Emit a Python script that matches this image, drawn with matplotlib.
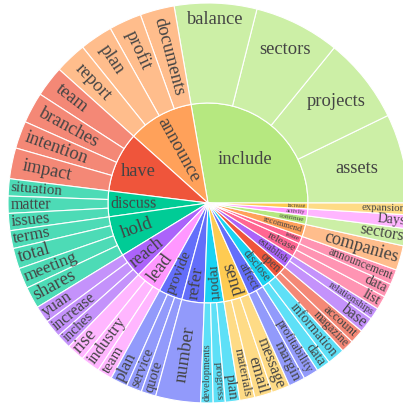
import numpy as np
import matplotlib
matplotlib.use("Agg")
import matplotlib.pyplot as plt
from matplotlib.textpath import TextPath
from matplotlib.font_manager import FontProperties

# inner ring (verbs), counterclockwise from 3 o'clock
verbs = ['include', 'announce', 'have', 'discuss', 'hold', 'reach', 'lead', 'provide',
         'refer', 'report', 'send', 'affect', 'disclose', 'open', 'establish', 'release',
         'issue', 'recommend', 'continue', 'activity', 'increase']
verb_colors = ['#B6E880', '#FFA15A', '#EF553B', '#00CC96', '#00CC96', '#AB63FA', '#FF97FF',
               '#636EFA', '#636EFA', '#19D3F3', '#FECB52', '#636EFA', '#19D3F3', '#EF553B',
               '#AB63FA', '#FF6692', '#FF6692', '#FFA15A', '#B6E880', '#FF97FF', '#FECB52']

# outer ring (objects) with their verb
objects = ['assets', 'projects', 'sectors', 'balance',
           'documents', 'profit', 'plan', 'report',
           'team', 'branches', 'intention', 'impact',
           'situation', 'matter', 'issues',
           'terms', 'total', 'meeting', 'shares',
           'yuan', 'increase', 'inches',
           'rise', 'industry', 'team',
           'plan', 'service', 'quote',
           'number',
           'developments', 'progress', 'plan',
           'materials', 'email', 'message',
           'margin', 'profitability',
           'data', 'information',
           'magazine', 'account',
           'base', 'relationships',
           'list', 'data',
           'announcement',
           'companies',
           'sectors',
           'Days',
           'expansion']
object_verb = ['include'] * 4 + ['announce'] * 4 + ['have'] * 4 + ['discuss'] * 3 + \
              ['hold'] * 4 + ['reach'] * 3 + ['lead'] * 3 + ['provide'] * 3 + ['refer'] + \
              ['report'] * 3 + ['send'] * 3 + ['affect'] * 2 + ['disclose'] * 2 + \
              ['open'] * 2 + ['establish'] * 2 + ['release'] * 2 + ['issue', 'recommend',
              'continue', 'activity', 'increase']
object_values = [26, 25, 25, 24,
                 10, 9.5, 9.6, 9.3,
                 9, 9, 8, 9,
                 5, 5, 5,
                 5.2, 6, 6, 6.3,
                 5, 5.2, 4.3,
                 5.2, 5.6, 4.4,
                 5, 4.5, 4.3,
                 13.1,
                 3.6, 3.5, 4.2,
                 4.4, 5.2, 5.3,
                 4.8, 4.4,
                 4.1, 5.1,
                 3.7, 4.1,
                 4.5, 3.4,
                 4, 4,
                 4.4,
                 7.2,
                 5.0,
                 4.0,
                 3.4]

verb_values = [sum(v for v, p in zip(object_values, object_verb) if p == name) for name in verbs]


def lighten(c, a=0.7):
    rgb = np.array(matplotlib.colors.to_rgb(c))
    return tuple(a * rgb + (1 - a))


object_colors = [lighten(verb_colors[verbs.index(p)]) for p in object_verb]

CX, CY = 208, 202
R_IN, R_OUT = 100, 200
PAD = 2
HF = 0.85
MAX_PX = 18.5
FP = FontProperties(family='Liberation Serif')

fig = plt.figure(figsize=(4.03, 4.05), dpi=100)
ax = fig.add_axes([0, 0, 1, 1])
wp = dict(edgecolor='white', linewidth=0.8)
ax.pie(verb_values, radius=R_IN, center=(CX, CY), startangle=0, counterclock=True,
       colors=verb_colors, wedgeprops=wp)
ax.pie(object_values, radius=R_OUT, center=(CX, CY), startangle=0, counterclock=True,
       colors=object_colors, wedgeprops=dict(width=R_OUT - R_IN, **wp))
ax.set_xlim(0, 403)
ax.set_ylim(0, 405)
ax.set_aspect('equal')
ax.axis('off')


def text_w(s):
    return TextPath((0, 0), s, size=1, prop=FP).get_extents().width * 1.02


def radial_fit(w, r0, r1, half):
    lo, hi = 0.0, 200.0
    for _ in range(40):
        fs = (lo + hi) / 2
        rin = r1 - PAD - w * fs
        ok = rin >= r0 + PAD and (half >= np.pi / 2 or HF / 2 * fs <= rin * np.tan(half))
        if ok:
            lo = fs
        else:
            hi = fs
    return lo, r1 - PAD - w * lo / 2


def box_ok(cxr, cyr, W, H, r0, r1, a0, span):
    xs = np.concatenate([np.linspace(-W / 2, W / 2, 7), np.full(5, W / 2),
                         np.linspace(-W / 2, W / 2, 7), np.full(5, -W / 2)])
    ys = np.concatenate([np.full(7, H / 2), np.linspace(-H / 2, H / 2, 5),
                         np.full(7, -H / 2), np.linspace(-H / 2, H / 2, 5)])
    x = cxr + xs
    y = cyr + ys
    r = np.hypot(x, y)
    if np.any(r > r1 - PAD) or np.any(r < r0 + PAD):
        return False
    t = (np.arctan2(y, x) - a0) % (2 * np.pi)
    if np.any(t > span):
        return False
    d0 = np.where(t < np.pi / 2, r * np.sin(t), 1e9)
    d1 = np.where(span - t < np.pi / 2, r * np.sin(span - t), 1e9)
    return bool(np.all(d0 >= PAD) and np.all(d1 >= PAD))


def horiz_fit(w, r0, r1, a0, a1):
    mid = (a0 + a1) / 2
    span = a1 - a0
    if r0 == 0:
        h = min(span / 2, np.pi / 2)
        rin = np.sin(h) / (1 + np.sin(h))
        return 2 * (r1 - PAD) * rin / np.hypot(w, HF), r1 * (1 - rin)
    rcs = np.linspace(r0, r1, 80)

    def feas(fs):
        return [rc for rc in rcs
                if box_ok(rc * np.cos(mid), rc * np.sin(mid), w * fs, HF * fs, r0, r1, a0, span)]
    lo, hi = 0.0, 100.0
    for _ in range(25):
        fs = (lo + hi) / 2
        if feas(fs):
            lo = fs
        else:
            hi = fs
    f = feas(lo)
    return lo, (np.mean(f) if f else (r0 + r1) / 2)


def label_ring(labels, values, r0, r1):
    edges = np.concatenate([[0], np.cumsum(values)]) / np.sum(values) * 2 * np.pi
    for s, a0, a1 in zip(labels, edges[:-1], edges[1:]):
        mid = (a0 + a1) / 2
        w = text_w(s)
        fs_h, rc_h = horiz_fit(w, r0, r1, a0, a1)
        fs_r, rc_r = radial_fit(w, r0, r1, (a1 - a0) / 2)
        if fs_h >= MAX_PX or fs_h >= fs_r:
            fs, rc, rot = fs_h, rc_h, 0
        else:
            fs, rc = fs_r, rc_r
            deg = np.degrees(mid) % 360
            rot = deg - 180 if 90 < deg < 270 else (deg - 360 if deg >= 270 else deg)
        fs = min(fs, MAX_PX)
        ax.text(CX + rc * np.cos(mid), CY + rc * np.sin(mid), s, rotation=rot,
                rotation_mode='anchor', ha='center', va='center',
                fontsize=fs * 0.72, family='Liberation Serif', color='#444444')


label_ring(verbs, verb_values, 0, R_IN)
label_ring(objects, object_values, R_IN, R_OUT)

fig.savefig('out.png', dpi=100)
